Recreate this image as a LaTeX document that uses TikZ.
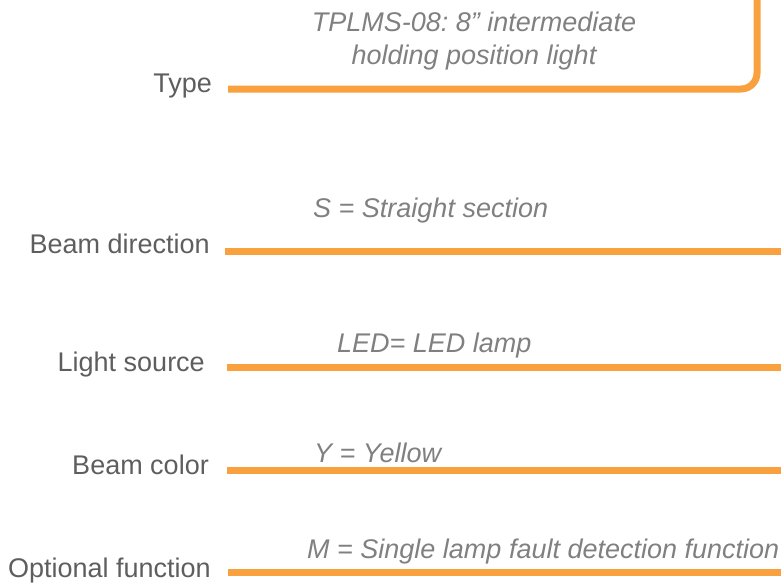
\documentclass[tikz,border=0pt]{standalone}
\usepackage{fontspec}
\setmainfont{Liberation Sans}
\usepackage{tikz}
\usetikzlibrary{calc}
\definecolor{codeorange}{HTML}{F9A03F}
\definecolor{labelgray}{HTML}{5E5E5E}
\definecolor{valuegray}{HTML}{808080}
\frenchspacing

\begin{document}
\begin{tikzpicture}[x=1pt,y=-1pt]
        \useasboundingbox (0,0) rectangle (781,582);
        \begin{scope}[inner sep=0pt,
            field/.style={anchor=base east,text=labelgray,font=\fontsize{27}{33}\selectfont},
            value/.style={anchor=base west,text=valuegray,font=\fontsize{27}{33}\selectfont\itshape},
            rule/.style={draw=codeorange,line width=7pt}]
        % labels on the left
        \node[field] (type) at (212,92) {Type};
        \node[field] (beam) at (210,253) {Beam direction};
        \node[field] (light) at (205,371) {Light source};
        \node[field] (color) at (209,474) {Beam color};
        \node[field] (option) at (211,577) {Optional function};
        % code meanings
        \node[value,anchor=base,align=center] (typeval) at (474,64) {TPLMS-08: 8” intermediate\\holding position light};
        \node[value] (beamval) at (313,217) {S = Straight section};
        \node[value] (lightval) at (337,352) {LED= LED lamp};
        \node[value] (colorval) at (314,462) {Y = Yellow};
        \node[value] (optionval) at (307,558) {M = Single lamp fault detection function};
        % line ends
        \coordinate (typeL) at ($(type.east)+(16,0)$);
        \coordinate (beamL) at ($(beam.east)+(15,0)$);
        \coordinate (lightL) at ($(light.east)+(22,0)$);
        \coordinate (colorL) at ($(color.east)+(18,0)$);
        \coordinate (optionL) at ($(option.east)+(17,0)$);
        \draw[rule,rounded corners=16pt] (typeL |- 0,89) -- (757,89) -- (757,-10);
        \draw[rule] (beamL |- 0,251) -- (790,251);
        \draw[rule] (lightL |- 0,367) -- (790,367);
        \draw[rule] (colorL |- 0,470) -- (790,470);
        \draw[rule] (optionL |- 0,572) -- (790,572);
        \end{scope}
\end{tikzpicture}
\end{document}
